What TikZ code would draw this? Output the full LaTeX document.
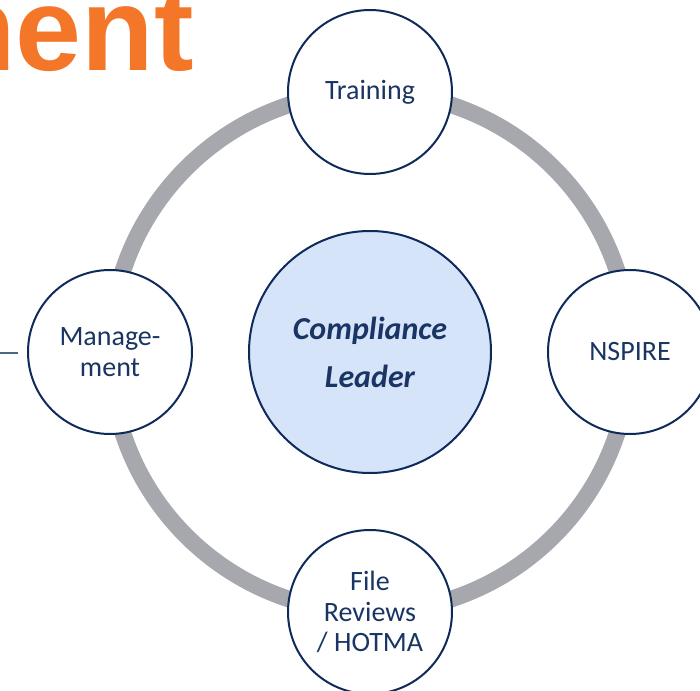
\documentclass[tikz,border=0pt]{standalone}
\usepackage{fontspec}
\setmainfont{Carlito}
\newfontfamily\headfont{Liberation Sans}
\usetikzlibrary{positioning}

\definecolor{navy}{HTML}{0E2A5A}
\definecolor{navytext}{HTML}{1A3563}
\definecolor{ringgray}{HTML}{A6A8AD}
\definecolor{leaderblue}{HTML}{D6E4FA}
\definecolor{headorange}{HTML}{F47729}
\definecolor{slate}{HTML}{4A6688}

\begin{document}
\begin{tikzpicture}[x=0.75pt, y=-0.75pt,
	topic/.style={circle, draw=navy, line width=1.5pt, fill=white, minimum size=123pt, inner sep=0pt, align=center, text=navytext, font=\fontsize{21}{23}\selectfont},
	leader/.style={topic, fill=leaderblue, minimum size=181.5pt, font=\fontsize{24}{36}\selectfont\bfseries\itshape},
	ring/.style={draw=ringgray, line width=12.5pt},
	stub/.style={draw=slate, line width=1.2pt}]

	\useasboundingbox (0,0) rectangle (700,691);
	\clip (0,0) rectangle (700,691);

	% heading, cut at the page edge
	\node[anchor=base east, inner sep=0pt, text=headorange, font=\headfont\fontsize{89}{89}\selectfont\bfseries] (heading) at (194,71) {Management};

	\node[leader]	(leader)	at	(370, 352)	{Compliance \\ Leader};

	% ring behind the four topics
	\draw[ring] (leader.center) circle[radius=260];

	\node[topic]	(training)	at	(370, 92)	{Training};
	\node[topic]	(nspire)	at	(630, 352)	{NSPIRE};
	\node[topic]	(reviews)	at	(370, 612)	{File \\ Reviews \\ / HOTMA};
	\node[topic]	(mgmt)		at	(110, 352)	{Manage- \\ ment};

	\coordinate (offpage)	at	(0, 353);
	\coordinate (stubend)	at	(18, 353);
	\draw[stub] (offpage) -- (stubend);

\end{tikzpicture}
\end{document}
